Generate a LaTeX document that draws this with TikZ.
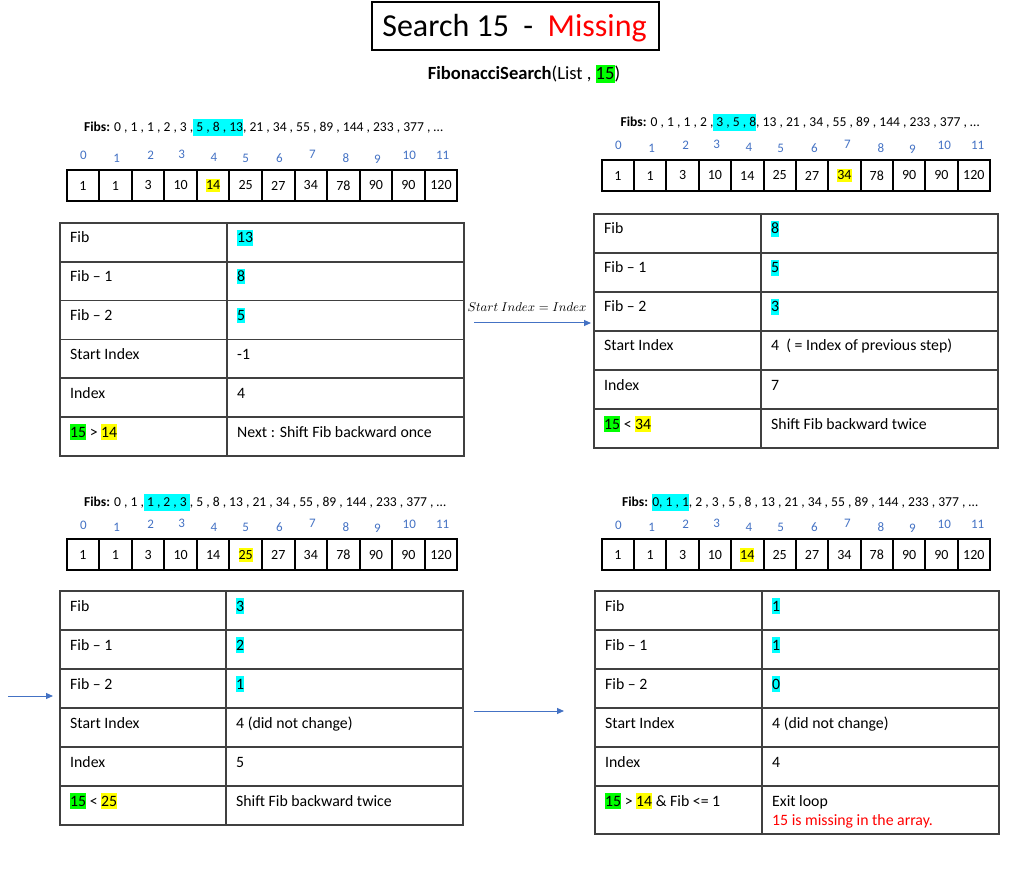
\documentclass[tikz,border=0pt]{standalone}
\usepackage{graphicx}
\usepackage{fontspec}
\setmainfont{Carlito}
\usetikzlibrary{arrows.meta}
\definecolor{hcyan}{HTML}{00FFFF}
\definecolor{hgreen}{HTML}{00FF00}
\definecolor{hyellow}{HTML}{FFFF00}
\definecolor{idxblue}{HTML}{4472C4}
\definecolor{tgray}{HTML}{404040}
\newcommand{\hlx}[2]{{\setlength{\fboxsep}{0pt}\colorbox{#1}{\rule[-0.17em]{0pt}{0.98em}#2}}}
\newcommand{\hc}[1]{\hlx{hcyan}{#1}}
\newcommand{\hg}[1]{\hlx{hgreen}{#1}}
\newcommand{\hy}[1]{\hlx{hyellow}{#1}}
\newcommand{\hf}[1]{{\setlength{\fboxsep}{0pt}\colorbox{hcyan}{\rule[-0.3em]{0pt}{1.2em}#1}}}
\tikzset{
  cell/.style={draw, line width=2pt, minimum height=31pt, inner sep=0pt, font=\fontsize{14}{16}\selectfont},
  idx/.style={text=idxblue, inner sep=0pt, font=\fontsize{13}{15}\selectfont},
  fibline/.style={anchor=base, inner sep=0pt, font=\fontsize{13.6}{15}\selectfont},
  tline/.style={draw=tgray, line width=1.5pt},
  ttext/.style={anchor=base west, inner sep=0pt, font=\fontsize{15.8}{19}\selectfont},
  conn/.style={draw=idxblue, line width=1pt, -{Triangle[length=7pt,width=6pt]}},
}
\newcommand{\numarray}[5]{%
  \foreach \v [count=\i from 0] in {1,1,3,10,14,25,27,34,78,90,90,120}{
    \node[cell, minimum width=#4pt] (#1c\i) at ({#2+#4*(\i+0.5)},{#3+15.5}) {\ifnum\i=#5 \hy{\v}\else\v\fi};
  }
  \foreach \dx/\dy [count=\i from 0] in {16.6/-14.3,50/-11.7,84/-15,115/-15.7,147.3/-12.3,179/-11.7,212.6/-12.3,245.6/-15.7,279.3/-11.7,310.6/-11,342.6/-15,376/-15}{
    \node[idx] (#1i\i) at ({#2+\dx},{#3+\dy}) {\i};
  }
}
\newcommand{\tablegrid}[6]{%
  \draw[tline] (#1,#4) rectangle (#3,#6);
  \draw[tline] (#2,#4) -- (#2,#6);
  \foreach \k in {1,...,5}{\draw[tline] (#1,{#4+\k*#5}) -- (#3,{#4+\k*#5});}
}
\begin{document}
\begin{tikzpicture}[x=1pt,y=-1pt]
\fill[white] (0,0) rectangle (1021,869);
\useasboundingbox (0,0) rectangle (1021,869);

% title
\node[draw, line width=2pt, minimum width=287pt, minimum height=48pt, inner sep=0pt] (titlebox) at (515.5,26) {};
\node[anchor=base, inner sep=0pt, font=\fontsize{32}{38}\selectfont] (title) at (514.5,36.5) {Search 15\ \ -\ \ \textcolor{red}{Missing}};
\node[anchor=base, inner sep=0pt, font=\fontsize{18.6}{22}\selectfont] (sub) at (524,80) {\textbf{FibonacciSearch}(List , \hg{15})};

% fib lines
\node[fibline] (fibTL) at (263.5,131.7) {\textbf{Fibs:} 0 , 1 , 1 , 2 , 3 ,\hf{ 5 , 8 , 13}, 21 , 34 , 55 , 89 , 144 , 233 , 377 , …};
\node[fibline] (fibTR) at (800,126.7) {\textbf{Fibs:} 0 , 1 , 1 , 2 ,\hf{ 3 , 5 , 8}, 13 , 21 , 34 , 55 , 89 , 144 , 233 , 377 , …};
\node[fibline] (fibBL) at (265,506.7) {\textbf{Fibs:} 0 , 1 ,\hf{ 1 , 2 , 3 }, 5 , 8 , 13 , 21 , 34 , 55 , 89 , 144 , 233 , 377 , …};
\node[fibline] (fibBR) at (800,506.7) {\textbf{Fibs:} \hf{0, 1 , 1}, 2 , 3 , 5 , 8 , 13 , 21 , 34 , 55 , 89 , 144 , 233 , 377 , …};

% arrays
\numarray{tl}{66.7}{170}{32.55}{4}
\numarray{tr}{601.7}{160}{32.36}{7}
\numarray{bl}{66.7}{539.3}{32.55}{5}
\numarray{br}{601.7}{539.3}{32.36}{4}

% tables
\tablegrid{60}{227}{464}{223}{38.8}{456}
\tablegrid{594}{761}{998}{214}{39}{448}
\tablegrid{60}{226}{463}{591}{39}{825}
\tablegrid{595}{762}{999}{591}{39}{834}

\foreach \a/\b [count=\r from 0] in {Fib/{\hc{13}}, Fib – 1/{\hc{8}}, Fib – 2/{\hc{5}}, Start Index/{-1}, Index/{4}, {\hg{15} > \hy{14}}/{Next : Shift Fib backward once}}{
  \node[ttext] (tlL\r) at (70,{243+38.8*\r}) {\a};
  \node[ttext] (tlR\r) at (237,{243+38.8*\r}) {\b};
}
\foreach \a/\b [count=\r from 0] in {Fib/{\hc{8}}, Fib – 1/{\hc{5}}, Fib – 2/{\hc{3}}, Start Index/{4\ \ ( = Index of previous step)}, Index/{7}, {\hg{15} < \hy{34}}/{Shift Fib backward twice}}{
  \node[ttext] (trL\r) at (604,{234+39*\r}) {\a};
  \node[ttext] (trR\r) at (771,{234+39*\r}) {\b};
}
\foreach \a/\b [count=\r from 0] in {Fib/{\hc{3}}, Fib – 1/{\hc{2}}, Fib – 2/{\hc{1}}, Start Index/{4 (did not change)}, Index/{5}, {\hg{15} < \hy{25}}/{Shift Fib backward twice}}{
  \node[ttext] (blL\r) at (70,{611+39*\r}) {\a};
  \node[ttext] (blR\r) at (236,{611+39*\r}) {\b};
}
\foreach \a/\b [count=\r from 0] in {Fib/{\hc{1}}, Fib – 1/{\hc{1}}, Fib – 2/{\hc{0}}, Start Index/{4 (did not change)}, Index/{4}, {\hg{15} > \hy{14} \& Fib <= 1}/{Exit loop}}{
  \node[ttext] (brL\r) at (605,{611+39*\r}) {\a};
  \node[ttext] (brR\r) at (772,{611+39*\r}) {\b};
}
\node[ttext, text=red] (brR5b) at (772,{611+39*5+19}) {15 is missing in the array.};

% arrows
\coordinate (a1s) at (474,323);
\coordinate (a1e) at (591,323);
\draw[conn] (a1s) -- (a1e);
\node[anchor=base, inner sep=0pt] (a1lab) at (527,312) {\resizebox{119pt}{!}{$Start\ Index = Index$}};
\coordinate (a2s) at (8,696);
\coordinate (a2e) at (53,696);
\draw[conn] (a2s) -- (a2e);
\coordinate (a3s) at (474,711);
\coordinate (a3e) at (564,711);
\draw[conn] (a3s) -- (a3e);
\end{tikzpicture}
\end{document}
